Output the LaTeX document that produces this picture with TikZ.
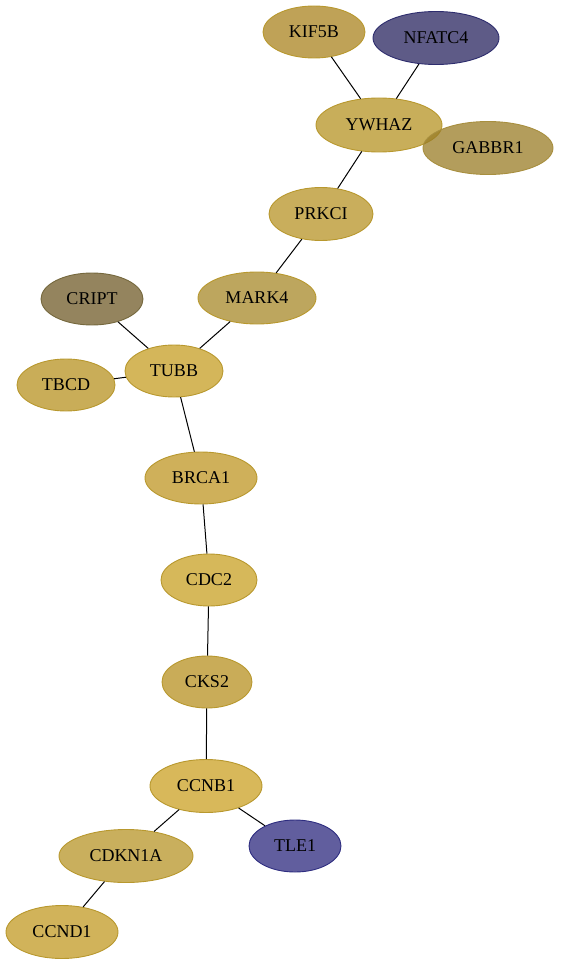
\documentclass[tikz,border=0pt]{standalone}
\usepackage{fontspec}
\setmainfont{Liberation Serif}
\usetikzlibrary{shapes.geometric}
\definecolor{gA}{HTML}{BFA257}
\definecolor{gB}{HTML}{C8AE5A}
\definecolor{gC}{HTML}{997C25}
\definecolor{gD}{HTML}{C9AE5C}
\definecolor{gE}{HTML}{BDA65E}
\definecolor{gF}{HTML}{94845E}
\definecolor{gG}{HTML}{D4B65A}
\definecolor{gH}{HTML}{C9AD58}
\definecolor{gI}{HTML}{CFB05A}
\definecolor{gJ}{HTML}{D6B85A}
\definecolor{gK}{HTML}{C9AC58}
\definecolor{gL}{HTML}{D8B85A}
\definecolor{gM}{HTML}{C9AF5D}
\definecolor{gN}{HTML}{D1B35A}
\definecolor{bA}{HTML}{5E5B87}
\definecolor{bB}{HTML}{615E9E}
\definecolor{goldline}{HTML}{B8982E}
\definecolor{darkline}{HTML}{A88F3F}
\definecolor{crline}{HTML}{75683D}
\definecolor{blline}{HTML}{2E2D6E}
\definecolor{blline2}{HTML}{2E2D80}
\tikzset{
  gene/.style={ellipse, draw=goldline, line width=0.9pt, inner sep=0pt, font=\fontsize{18}{21}\selectfont},
  link/.style={draw=black, line width=1pt}
}
\begin{document}
\begin{tikzpicture}[x=1pt,y=-1pt]
\useasboundingbox (0,0) rectangle (560,968);
\node[gene, fill=gA, minimum width=102pt, minimum height=52pt] (KIF5B) at (314,32) {KIF5B};
\node[gene, fill=bA, draw=blline, minimum width=126pt, minimum height=53pt] (NFATC4) at (436,38) {NFATC4};
\node[gene, fill=gB, minimum width=126pt, minimum height=54pt] (YWHAZ) at (379,125) {YWHAZ};
\node[gene, fill=gC, draw=darkline, fill opacity=0.75, text opacity=1, minimum width=130pt, minimum height=53pt] (GABBR1) at (488,148) {GABBR1};
\node[gene, fill=gD, minimum width=104pt, minimum height=53pt] (PRKCI) at (321,214) {PRKCI};
\node[gene, fill=gE, minimum width=118pt, minimum height=52pt] (MARK4) at (257,298) {MARK4};
\node[gene, fill=gF, draw=crline, minimum width=102pt, minimum height=52pt] (CRIPT) at (92,299) {CRIPT};
\node[gene, fill=gG, minimum width=98pt, minimum height=52pt] (TUBB) at (174,371) {TUBB};
\node[gene, fill=gH, minimum width=98pt, minimum height=52pt] (TBCD) at (66,385) {TBCD};
\node[gene, fill=gI, minimum width=112pt, minimum height=52pt] (BRCA1) at (201,478) {BRCA1};
\node[gene, fill=gJ, minimum width=96pt, minimum height=52pt] (CDC2) at (209,580) {CDC2};
\node[gene, fill=gK, minimum width=90pt, minimum height=52pt] (CKS2) at (207,682) {CKS2};
\node[gene, fill=gL, minimum width=112pt, minimum height=53pt] (CCNB1) at (206,786) {CCNB1};
\node[gene, fill=gM, minimum width=134pt, minimum height=53pt] (CDKN1A) at (126,856) {CDKN1A};
\node[gene, fill=bB, draw=blline2, minimum width=92pt, minimum height=52pt] (TLE1) at (295,846) {TLE1};
\node[gene, fill=gN, minimum width=112pt, minimum height=53pt] (CCND1) at (62,932) {CCND1};
\draw[link] (KIF5B) -- (YWHAZ);
\draw[link] (NFATC4) -- (YWHAZ);
\draw[link] (YWHAZ) -- (PRKCI);
\draw[link] (PRKCI) -- (MARK4);
\draw[link] (MARK4) -- (TUBB);
\draw[link] (CRIPT) -- (TUBB);
\draw[link] (TBCD) -- (TUBB);
\draw[link] (TUBB) -- (BRCA1);
\draw[link] (BRCA1) -- (CDC2);
\draw[link] (CDC2) -- (CKS2);
\draw[link] (CKS2) -- (CCNB1);
\draw[link] (CCNB1) -- (CDKN1A);
\draw[link] (CCNB1) -- (TLE1);
\draw[link] (CDKN1A) -- (CCND1);
\end{tikzpicture}
\end{document}
